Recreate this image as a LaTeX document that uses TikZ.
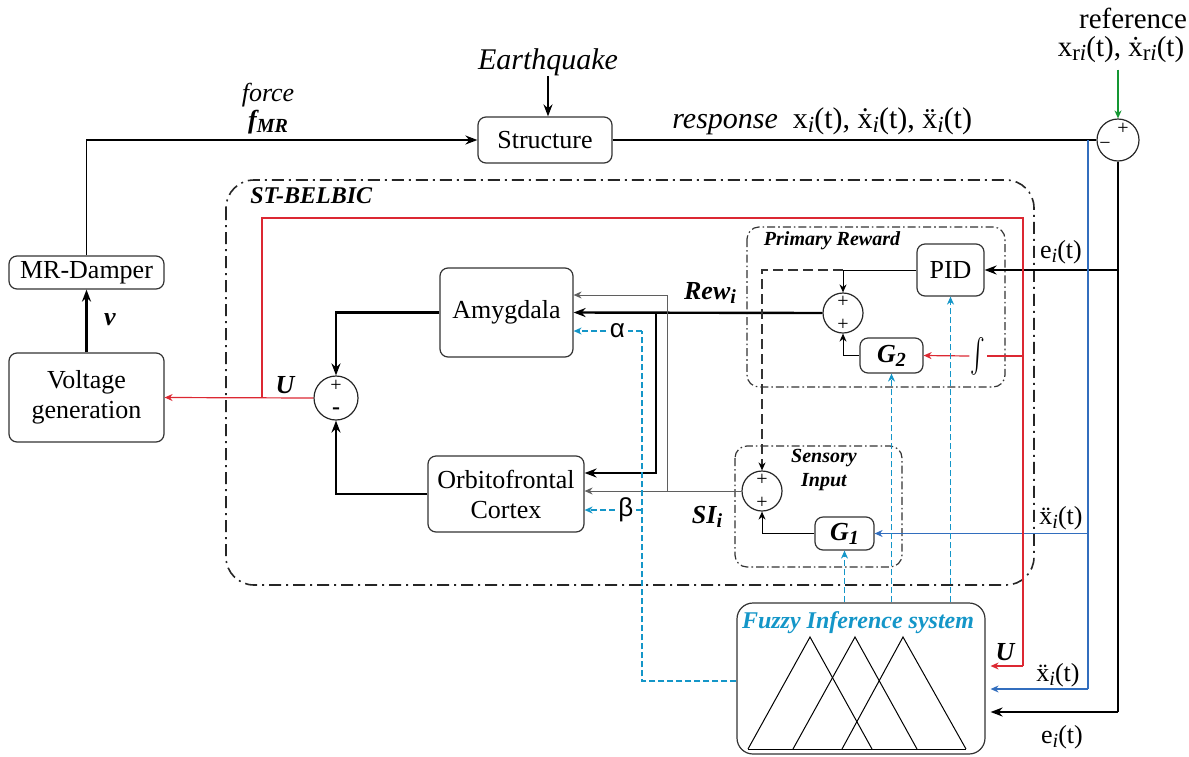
\documentclass[tikz,border=0pt]{standalone}
\usepackage{fontspec}
\usepackage{graphicx}
\setmainfont{Liberation Serif}
\newfontfamily\tnr{Liberation Serif}
\newfontfamily\sansgreek{Liberation Sans}
\usetikzlibrary{arrows.meta,calc}
\definecolor{myred}{RGB}{220,40,50}
\definecolor{myblue}{RGB}{50,110,190}
\definecolor{fzblue}{RGB}{20,150,200}
\definecolor{mygreen}{RGB}{20,150,50}
\definecolor{mygray}{RGB}{95,95,95}
\newcommand\lowsub[1]{\raisebox{-0.35ex}{\fontsize{10}{10}\selectfont #1}}
\newcommand\biglowsub[1]{\raisebox{-0.3ex}{\fontsize{11.5}{11.5}\selectfont #1}}
\begin{document}
\begin{tikzpicture}[x=0.5pt,y=-0.5pt,
 box/.style={draw=black!80, rounded corners=4pt, line width=0.6pt, align=center, inner sep=0pt, font=\tnr\fontsize{13}{15}\selectfont},
 sumc/.style={circle, draw=black!85, line width=0.6pt, inner sep=0pt},
 thk/.style={line width=1.2pt, draw=black},
 med/.style={line width=0.9pt, draw=black},
 thn/.style={line width=0.5pt, draw=black},
 gry/.style={line width=0.5pt, draw=mygray},
 redln/.style={line width=0.6pt, draw=myred},
 blueln/.style={line width=0.6pt, draw=myblue},
 greenln/.style={line width=0.8pt, draw=mygreen},
 bdash/.style={line width=0.7pt, draw=fzblue, dash pattern=on 3pt off 1.5pt},
 ldash/.style={line width=0.6pt, draw=black!80, dash pattern=on 5pt off 2.5pt},
 ddot/.style={line width=0.6pt, draw=black!80, dash pattern=on 4pt off 1.5pt on 0.8pt off 1.5pt, rounded corners=6pt},
 bigdd/.style={line width=0.8pt, draw=black!85, dash pattern=on 6pt off 2.5pt on 1pt off 2.5pt, rounded corners=14pt},
 bigar/.style={-{Stealth[length=6pt,width=4.5pt]}},
 smar/.style={-{Stealth[length=4pt,width=3.5pt]}},
 lab/.style={inner sep=0pt, font=\tnr\fontsize{13}{15}\selectfont},
 biglab/.style={inner sep=0pt, font=\tnr\fontsize{14.5}{16}\selectfont},
 bilab/.style={inner sep=0pt, font=\tnr\fontsize{13}{15}\selectfont\bfseries\itshape},
 slab/.style={inner sep=0pt, font=\tnr\fontsize{10}{12}\selectfont\bfseries\itshape, align=center},
 sgn/.style={inner sep=0pt, font=\tnr\fontsize{10}{10}\selectfont}
]
\useasboundingbox (0,0) rectangle (1189,756);

% regions
\draw[bigdd] (226,180) rectangle (1034,585);
\draw[ddot] (747,227) rectangle (1005,387);
\draw[ddot] (735,446) rectangle (902,567);

% blocks
\node[box, minimum width=67pt, minimum height=23pt] (str) at (545,140) {Structure};
\node[box, minimum width=77.5pt, minimum height=16.5pt] (mr) at (86.5,272.5) {MR-Damper};
\node[box, minimum width=77.5pt, minimum height=44.5pt] (vg) at (86.5,397.5) {Voltage\\generation};
\node[box, minimum width=66.5pt, minimum height=44.5pt] (amy) at (506.5,312.5) {Amygdala};
\node[box, minimum width=78pt, minimum height=38pt] (ofc) at (506,494) {Orbitofrontal\\Cortex};
\node[box, minimum width=33.5pt, minimum height=26pt] (pid) at (950.5,270) {PID};
\node[box, minimum width=31.5pt, minimum height=17.5pt] (g2) at (891.5,355.5) {\bfseries\itshape G\lowsub{2}};
\node[box, minimum width=29.5pt, minimum height=16.5pt] (g1) at (844.5,533.5) {\bfseries\itshape G\lowsub{1}};
\node[box, rounded corners=8pt, minimum width=124pt, minimum height=75.5pt] (fis) at (861,678.5) {};

% sum junctions
\node[sumc, minimum size=22pt] (s0) at (336,398) {};
\node[sumc, minimum size=20pt] (s1) at (843,313) {};
\node[sumc, minimum size=20pt] (s2) at (762,491) {};
\node[sumc, minimum size=21pt] (s3) at (1118,140) {};
\node[sgn] at (336,386) {+};
\node[sgn, font=\tnr\fontsize{12}{12}\selectfont\bfseries] at (336,411) {-};
\node[sgn] at (843,302) {+};
\node[sgn] at (843,325) {+};
\node[sgn] at (762,480) {+};
\node[sgn] at (762,503) {+};
\node[sgn] at (1123,129) {+};
\node[sgn] at (1105,146) {\textminus};

% texts
\node[lab] (force) at (268,95) {\itshape force};
\node[bilab] (fmr) at (268,122) {f\lowsub{MR}};
\node[biglab, font=\tnr\fontsize{15}{17}\selectfont] (eq) at (548,62) {\itshape Earthquake};
\node[biglab, anchor=west, font=\tnr\fontsize{15}{17}\selectfont] (resp) at (672,121) {\textit{response}\ \ x\biglowsub{\textit{i}}(t), \.{x}\biglowsub{\textit{i}}(t), \"{x}\biglowsub{\textit{i}}(t)};
\node[biglab] (ref) at (1133,18) {reference};
\node[biglab] (xr) at (1121,50) {x\biglowsub{r\textit{i}}(t), \.{x}\biglowsub{r\textit{i}}(t)};
\node[bilab, anchor=west, font=\tnr\fontsize{12}{14}\selectfont\bfseries\itshape] (stb) at (250,196) {ST-BELBIC};
\node[slab] (prl) at (832,241) {Primary Reward};
\node[slab] (sil) at (824,470) {Sensory\\Input};
\node[bilab, font=\tnr\fontsize{12}{14}\selectfont\bfseries\itshape, text=fzblue] (fzt) at (858,623) {Fuzzy Inference system};
\node[bilab] (ul) at (285,385) {U};
\node[bilab] (vl) at (110,320) {v};
\node[bilab] (rew) at (710,293) {Rew\lowsub{i}};
\node[bilab] (sii) at (707,517) {SI\lowsub{i}};
\node[lab] (e1) at (1061,252) {e\lowsub{\textit{i}}(t)};
\node[lab] (xdd1) at (1061,518) {\"{x}\lowsub{\textit{i}}(t)};
\node[bilab] (u2) at (1005,652) {U};
\node[lab] (xdd2) at (1058,675) {\"{x}\lowsub{\textit{i}}(t)};
\node[lab] (e2) at (1062,737) {e\lowsub{\textit{i}}(t)};
\node[inner sep=0.5pt] (int) at (978,356) {\scalebox{1.1}[1.7]{$\int$}};

% fuzzy membership triangles
\draw[thn] (748,749) -- (810,637) -- (872,749);
\draw[thn] (793,749) -- (855,637) -- (917,749);
\draw[thn] (842,749) -- (903,637) -- (966,749);
\draw[thn] (748,749) -- (966,749);

% plant loop
\draw[med, bigar] (mr.north) |- (str.west);
\draw[thk, bigar] (vg.north) -- (mr.south);
\draw[med, bigar] (eq.south) -- (str.north -| eq.south);
\draw[med] (str.east) -- (s3.west);
\draw[greenln, smar] ($(xr.south -| s3.north)+(0,6)$) -- (s3.north);

% error line
\coordinate (ebot) at (1118,712);
\coordinate (epid) at (1118,270);
\draw[thk] (s3.south) -- (ebot);
\draw[thk, bigar, shorten >=2.5pt] (ebot) -- (fis.east |- ebot);
\draw[thk, bigar] (epid) -- (pid.east);

% acceleration line
\coordinate (btop) at (1088,140);
\coordinate (bbot) at (1088,689);
\coordinate (bg1) at (1088,533.5);
\draw[blueln] (btop) -- (bbot);
\draw[blueln, smar, shorten >=2.5pt] (bbot) -- (fis.east |- bbot);
\draw[blueln, smar] (bg1) -- (g1.east);

% control signal U (red)
\coordinate (rj) at (262,398);
\coordinate (rtl) at (262,218);
\coordinate (rtr) at (1023,218);
\coordinate (rint) at (1023,356);
\coordinate (rbot) at (1023,666);
\draw[redln, smar] (s0.west) -- (vg.east);
\draw[redln] (rj) -- (rtl) -- (rtr) -- (rbot);
\draw[redln, smar, shorten >=2.5pt] (rbot) -- (fis.east |- rbot);
\draw[redln] (rint) -- (int.east);
\draw[redln, smar] (int.west) -- (g2.east);

% emotional outputs
\draw[thk, bigar] (amy.west) -| (s0.north);
\draw[thk, bigar] (ofc.west) -| (s0.south);

% reward signal
\coordinate (rb1) at (656,312.5);
\coordinate (rb2) at (656,473);
\draw[thk, bigar] (s1.west) -- (amy.east);
\draw[thk, bigar] (rb1) -- (rb2) -- (ofc.east |- rb2);

% sensory input signal
\coordinate (sb1) at (667,491);
\coordinate (sb2) at (667,295);
\draw[gry, smar] (s2.west) -- (ofc.east |- s2.west);
\draw[gry, smar] (sb1) -- (sb2) -- (amy.east |- sb2);

% reward internals
\coordinate (pj) at (843,270);
\coordinate (pd1) at (762,270);
\draw[thn] (pid.west) -- (pj);
\draw[thn, smar] (pj) -- (s1.north);
\draw[ldash] (pj) -- (pd1) -- ($(s2.north)+(0,-4)$);
\draw[thn, smar] ($(s2.north)+(0,-5)$) -- (s2.north);
\draw[thn, smar] (g2.west) -| (s1.south);
\draw[thn, smar] (g1.west) -| (s2.south);

% fuzzy outputs
\coordinate (al1) at (642,681);
\coordinate (al2) at (642,331);
\coordinate (bt1) at (642,510);
\draw[bdash] (fis.west |- al1) -- (al1) -- (al2);
\draw[bdash, smar] (al2) -- node[pos=0.36, fill=white, inner sep=1.5pt, font=\fontsize{13}{15}\sansgreek] {α} (amy.east |- al2);
\draw[bdash, smar] (bt1) -- node[pos=0.28, fill=white, inner sep=1.5pt, font=\fontsize{13}{15}\sansgreek] {β} (ofc.east |- bt1);
\draw[bdash, smar] (fis.north -| g1.south) -- (g1.south);
\draw[bdash, smar] (fis.north -| g2.south) -- (g2.south);
\draw[bdash, smar] (fis.north -| pid.south) -- (pid.south);
\end{tikzpicture}
\end{document}
